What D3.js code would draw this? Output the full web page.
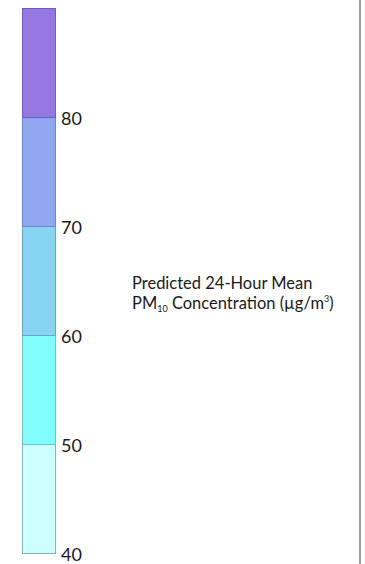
<!DOCTYPE html>
<html>
<head>
<meta charset="utf-8">
<script src="https://cdn.jsdelivr.net/npm/d3@7/dist/d3.min.js"></script>
<style>
  html, body { margin: 0; padding: 0; background: #fff; }
  svg { display: block; }
  text { font-family: Lato, "Open Sans", sans-serif; fill: #1a1a1a; }
</style>
</head>
<body>
<svg id="chart" width="365" height="564"></svg>
<script>
// Colour bins of the legend (lower bound, upper bound)
const binLower = [40, 50, 60, 70, 80];
const binUpper = [50, 60, 70, 80, 90];
const binFill   = ["#ccffff", "#80fcfc", "#87d4f2", "#8fa8f0", "#9478e0"];
const binStroke = ["#7fb6b8", "#6fc4c8", "#6aa6c8", "#6f86c8", "#7258c8"];
const tickValues = [40, 50, 60, 70, 80];
const titleLine1 = "Predicted 24-Hour Mean";

const svg = d3.select("#chart");
const barX = 22, barW = 33;

const y = d3.scaleLinear().domain([40, 90]).range([553, 8]);

// colour bins
svg.append("g").selectAll("rect")
  .data(binLower)
  .join("rect")
  .attr("x", barX + 0.5)
  .attr("y", (d, i) => y(binUpper[i]) + 0.5)
  .attr("width", barW)
  .attr("height", (d, i) => y(d) - y(binUpper[i]))
  .attr("fill", (d, i) => binFill[i])
  .attr("stroke", (d, i) => binStroke[i])
  .attr("stroke-width", 1);

// tick labels on the right side of the bar
const axis = d3.axisRight(y).tickValues(tickValues).tickSize(0).tickPadding(6);
const gAxis = svg.append("g")
  .attr("transform", `translate(${barX + barW},0)`)
  .call(axis);
gAxis.select(".domain").remove();
gAxis.selectAll("text")
  .attr("font-family", "Lato, 'Open Sans', sans-serif")
  .attr("font-size", 18)
  .attr("fill", "#1a1a1a")
  .attr("dy", "0.4em");

// legend title, two lines
svg.append("text")
  .attr("x", 132)
  .attr("y", 289)
  .attr("font-size", 16.5)
  .text(titleLine1);
const line2 = svg.append("text")
  .attr("x", 132)
  .attr("y", 309)
  .attr("font-size", 16.5);
line2.append("tspan").text("PM");
line2.append("tspan").attr("font-size", 9).attr("dy", 3).text("10");
line2.append("tspan").attr("dy", -3).text(" Concentration (µg/m");
line2.append("tspan").attr("font-size", 9).attr("dy", -7).text("3");
line2.append("tspan").attr("dy", 7).text(")");

// right frame edge
svg.append("line")
  .attr("x1", 360).attr("x2", 360)
  .attr("y1", 0).attr("y2", 564)
  .attr("stroke", "#a0a0a0")
  .attr("stroke-width", 2);
</script>
</body>
</html>
